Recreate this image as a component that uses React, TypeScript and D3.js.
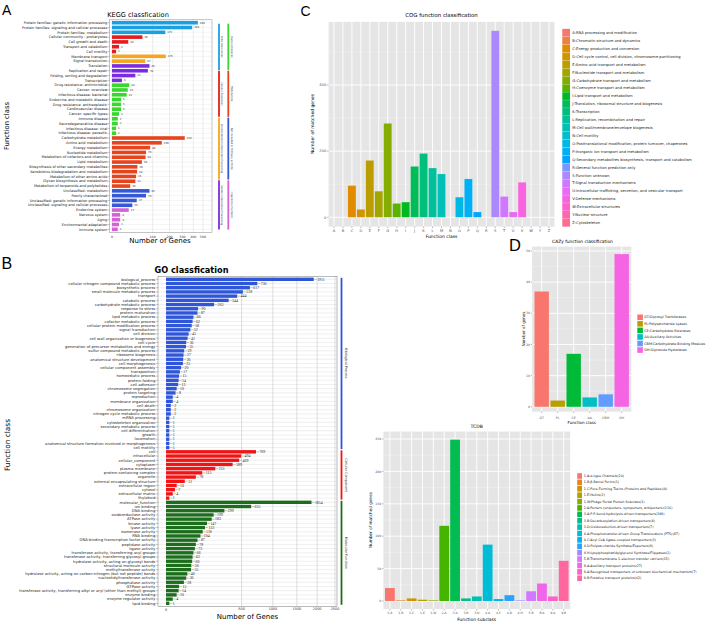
import React from 'react';
import * as d3 from 'd3';

// ---------------- KEGG ----------------
const keggLabels = [
  'Protein families: genetic information processing',
  'Protein families: signaling and cellular processes',
  'Protein families: metabolism',
  'Cellular community - prokaryotes',
  'Cell growth and death',
  'Transport and catabolism',
  'Cell motility',
  'Membrane transport',
  'Signal transduction',
  'Translation',
  'Replication and repair',
  'Folding, sorting and degradation',
  'Transcription',
  'Drug resistance: antimicrobial',
  'Cancer: overview',
  'Infectious disease: bacterial',
  'Endocrine and metabolic disease',
  'Drug resistance: antineoplastic',
  'Cardiovascular disease',
  'Cancer: specific types',
  'Immune disease',
  'Neurodegenerative disease',
  'Infectious disease: viral',
  'Infectious disease: parasitic',
  'Carbohydrate metabolism',
  'Amino acid metabolism',
  'Energy metabolism',
  'Nucleotide metabolism',
  'Metabolism of cofactors and vitamins',
  'Lipid metabolism',
  'Biosynthesis of other secondary metabolites',
  'Xenobiotics biodegradation and metabolism',
  'Metabolism of other amino acids',
  'Glycan biosynthesis and metabolism',
  'Metabolism of terpenoids and polyketides',
  'Unclassified: metabolism',
  'Poorly characterized',
  'Unclassified: genetic information processing',
  'Unclassified: signaling and cellular processes',
  'Endocrine system',
  'Nervous system',
  'Aging',
  'Environmental adaptation',
  'Immune system',
];
const keggValues = [446, 389, 172, 56, 16, 3, 1, 175, 67, 85, 78, 33, 6, 18, 15, 13, 5, 5, 5, 3, 2, 2, 1, 1,
  320, 150, 88, 70, 68, 54, 39, 38, 35, 33, 20, 85, 70, 37, 25, 17, 4, 4, 3, 2];
// group index per row
const keggGroup = [0, 0, 0, 1, 1, 1, 1, 2, 2, 3, 3, 3, 3, 4, 4, 4, 4, 4, 4, 4, 4, 4, 4, 4,
  5, 5, 5, 5, 5, 5, 5, 5, 5, 5, 5, 6, 6, 6, 6, 7, 7, 7, 7, 7];
const keggGroupNames = ['Brite Hierarchies', 'Cellular Processes', 'Environmental Information Processing',
  'Genetic Information Processing', 'Human Diseases', 'Metabolism', 'Not included in Pathway or Brite', 'Organismal Systems'];
const keggGroupColors = ['#1c9fe2', '#e51c1f', '#f6a51e', '#7a2de0', '#35d82b', '#e5441c', '#3558d6', '#d462d4'];
const keggTicks = [0, 100, 200, 300, 400, 500];
const keggStripWeights = [3, 3, 4, 3.2];

// ---------------- GO ----------------
const goBioLabels = [
  'biological_process', 'cellular nitrogen compound metabolic process', 'biosynthetic process',
  'small molecule metabolic process', 'transport', 'catabolic process', 'carbohydrate metabolic process',
  'response to stress', 'protein maturation', 'lipid metabolic process', 'cofactor metabolic process',
  'cellular protein modification process', 'signal transduction', 'cell division',
  'cell wall organization or biogenesis', 'cell cycle', 'generation of precursor metabolites and energy',
  'sulfur compound metabolic process', 'ribosome biogenesis', 'anatomical structure development',
  'cell morphogenesis', 'cellular component assembly', 'transposition', 'homeostatic process',
  'protein folding', 'cell adhesion', 'chromosome segregation', 'protein targeting', 'reproduction',
  'membrane organization', 'cell death', 'chromosome organization', 'nitrogen cycle metabolic process',
  'mRNA processing', 'cytoskeleton organization', 'secondary metabolic process', 'cell differentiation',
  'growth', 'locomotion', 'anatomical structure formation involved in morphogenesis', 'cell motility',
];
const goBioValues = [1911, 730, 617, 518, 444, 344, 203, 90, 87, 66, 62, 58, 52, 45, 41, 36, 35, 29, 27, 26,
  25, 20, 17, 15, 14, 13, 10, 8, 4, 4, 2, 2, 2, 1, 1, 1, 1, 1, 1, 1, 1];
const goCellLabels = ['cell', 'intracellular', 'cellular_component', 'cytoplasm', 'plasma membrane',
  'protein-containing complex', 'organelle', 'external encapsulating structure', 'extracellular region',
  'cytosol', 'extracellular matrix', 'thylakoid'];
const goCellValues = [709, 494, 469, 389, 213, 115, 78, 31, 10, 7, 4, 1];
const goMolLabels = ['molecular_function', 'ion binding', 'DNA binding', 'oxidoreductase activity',
  'ATPase activity', 'kinase activity', 'lyase activity', 'isomerase activity', 'RNA binding',
  'DNA-binding transcription factor activity', 'peptidase activity', 'ligase activity',
  'transferase activity, transferring acyl groups', 'transferase activity, transferring glycosyl groups',
  'hydrolase activity, acting on glycosyl bonds', 'structural molecule activity', 'methyltransferase activity',
  'hydrolase activity, acting on carbon-nitrogen (but not peptide) bonds', 'nucleotidyltransferase activity',
  'phosphatase activity', 'GTPase activity',
  'transferase activity, transferring alkyl or aryl (other than methyl) groups', 'enzyme binding',
  'enzyme regulator activity', 'lipid binding'];
const goMolValues = [1854, 635, 299, 199, 183, 147, 133, 118, 104, 87, 78, 73, 66, 62, 60, 56, 55, 40, 36, 28,
  15, 14, 10, 4, 1];
const goGroupNames = ['Biological Process', 'Cellular Component', 'Molecular Function'];
const goGroupColors = ['#2f56d9', '#f01414', '#1c6e1c'];
const goTicks = [500, 1000, 1500, 2000, 2500];

// ---------------- COG ----------------
const cogClasses = ['A', 'B', 'C', 'D', 'E', 'F', 'G', 'H', 'I', 'J', 'K', 'L', 'M', 'N', 'O', 'P', 'Q', 'R', 'S',
  'T', 'U', 'V', 'W', 'Y', 'Z'];
const cogValues = [0, 0, 96, 24, 172, 79, 284, 42, 46, 154, 193, 149, 131, 0, 61, 116, 16, 0, 564, 63, 16, 106, 0, 0, 0];
const cogNames = [
  'A:RNA processing and modification', 'B:Chromatin structure and dynamics', 'C:Energy production and conversion',
  'D:Cell cycle control, cell division, chromosome partitioning', 'E:Amino acid transport and metabolism',
  'F:Nucleotide transport and metabolism', 'G:Carbohydrate transport and metabolism',
  'H:Coenzyme transport and metabolism', 'I:Lipid transport and metabolism',
  'J:Translation, ribosomal structure and biogenesis', 'K:Transcription', 'L:Replication, recombination and repair',
  'M:Cell wall/membrane/envelope biogenesis', 'N:Cell motility',
  'O:Posttranslational modification, protein turnover, chaperones', 'P:Inorganic ion transport and metabolism',
  'Q:Secondary metabolites biosynthesis, transport and catabolism', 'R:General function prediction only',
  'S:Function unknown', 'T:Signal transduction mechanisms',
  'U:Intracellular trafficking, secretion, and vesicular transport', 'V:Defense mechanisms',
  'W:Extracellular structures', 'Y:Nuclear structure', 'Z:Cytoskeleton'];
const cogTicks = [0, 200, 400];

// ---------------- CAZy ----------------
const cazyClasses = ['GT', 'PL', 'CE', 'AA', 'CBM', 'GH'];
const cazyValues = [37, 2, 17, 3, 4, 49];
const cazyNames = ['GT:Glycosyl Transferases', 'PL:Polysaccharide Lyases', 'CE:Carbohydrate Esterases',
  'AA:Auxiliary Activities', 'CBM:Carbohydrate-Binding Modules', 'GH:Glycoside Hydrolases'];
const cazyTicks = [0, 10, 20, 30, 40, 50];

// ---------------- TCDB ----------------
const tcdbClasses = ['1.A', '1.B', '1.C', '1.E', '1.W', '2.A', '3.A', '3.B', '3.D', '4.A', '4.C', '4.D', '4.H', '5.B',
  '8.A', '9.A', '9.B'];
const tcdbValues = [20, 1, 4, 2, 1, 116, 249, 4, 7, 87, 3, 9, 1, 15, 27, 7, 62];
const tcdbNames = ['1.A:α-type Channels(20)', '1.B:β-Barrel Porins(1)',
  '1.C:Pore-Forming Toxins (Proteins and Peptides)(4)', '1.E:Holins(2)', '1.W:Phage Portal Protein Subclass(1)',
  '2.A:Porters (uniporters, symporters, antiporters)(116)', '3.A:P-P-bond-hydrolysis-driven transporters(249)',
  '3.B:Decarboxylation-driven transporters(4)', '3.D:Oxidoreduction-driven transporters(7)',
  '4.A:Phosphotransfer-driven Group Translocators (PTS)(87)', '4.C:Acyl CoA ligase-coupled transporters(3)',
  '4.D:Polysaccharide Synthase/Exporters(9)', '4.H:Lysylphosphatidylglycerol Synthase/Flippases(1)',
  '5.B:Transmembrane 1-electron transfer carriers(15)', '8.A:Auxiliary transport proteins(27)',
  '9.A:Recognized transporters of unknown biochemical mechanism(7)', '9.B:Putative transport proteins(62)'];
const tcdbTicks = [0, 50, 100, 150, 200, 250];

const SANS = 'DejaVu Sans, sans-serif';
const ARIAL = 'Liberation Sans, Arial, sans-serif';

// ggplot hue palette (polar LUV -> sRGB)
function hclLuv(h: number, c: number, l: number) {
  const Xn = 95.047, Yn = 100, Zn = 108.883;
  const hr = (h * Math.PI) / 180;
  const U = c * Math.cos(hr), V = c * Math.sin(hr);
  const Y = Yn * (l > 8 ? Math.pow((l + 16) / 116, 3) : l / 903.3);
  const den = Xn + 15 * Yn + 3 * Zn;
  const un = (4 * Xn) / den, vn = (9 * Yn) / den;
  const up = U / (13 * l) + un, vp = V / (13 * l) + vn;
  const X = (9 * Y * up) / (4 * vp);
  const Z = (Y * (12 - 3 * up - 20 * vp)) / (4 * vp);
  const x = X / 100, y = Y / 100, z = Z / 100;
  const lin = [
    3.240479 * x - 1.53715 * y - 0.498535 * z,
    -0.969256 * x + 1.875992 * y + 0.041556 * z,
    0.055648 * x - 0.204043 * y + 1.057311 * z,
  ];
  const g = lin.map((v) => {
    const s = v <= 0.0031308 ? 12.92 * v : 1.055 * Math.pow(v, 1 / 2.4) - 0.055;
    return Math.round(Math.max(0, Math.min(1, s)) * 255);
  });
  return d3.rgb(g[0], g[1], g[2]).formatHex();
}
const huePal = (n: number) => d3.range(n).map((i) => hclLuv(15 + (360 * i) / n, 100, 65));

function Kegg() {
  const n = keggLabels.length;
  const y = d3.scaleLinear().domain([0, n - 1]).range([22.7, 229.3]);
  const x = d3.scaleSqrt().domain([0, 605]).range([112, 212]);
  const box = { l: 109.5, r: 212, t: 19.8, b: 232.5 };
  const bh = 3.6;
  const cum = [0, ...d3.cumsum(keggStripWeights)];
  const sy = d3.scaleLinear().domain([0, cum[cum.length - 1]]).range([23.3, 230]);
  const strip1 = [0, 1, 2, 3];
  const strip2 = [4, 5, 6, 7];
  return (
    <g>
      <text x={2} y={15} fontFamily={ARIAL} fontSize={14}>A</text>
      <text x={138} y={16.5} textAnchor="middle" fontFamily={SANS} fontSize={6.6}>KEGG classfication</text>
      {keggTicks.map((t) => (
        <line key={t} x1={x(t)} x2={x(t)} y1={box.t} y2={box.b} stroke="#d9d9d9" strokeWidth={0.5} />
      ))}
      {keggLabels.map((l, i) => (
        <line key={'h' + i} x1={box.l} x2={box.r} y1={y(i)} y2={y(i)} stroke="#e6e6e6" strokeWidth={0.4} />
      ))}
      <rect x={box.l} y={box.t} width={box.r - box.l} height={box.b - box.t} fill="none" stroke="#888" strokeWidth={0.5} />
      {keggLabels.map((l, i) => (
        <g key={i}>
          <rect x={x(0)} y={y(i) - bh / 2} width={x(keggValues[i]) - x(0)} height={bh} fill={keggGroupColors[keggGroup[i]]} />
          <text x={107.3} y={y(i) + 1.2} textAnchor="end" fontFamily={SANS} fontSize={3.5} fill="#222">{l}</text>
          <line x1={107.6} x2={box.l} y1={y(i)} y2={y(i)} stroke="#444" strokeWidth={0.3} />
          <text x={x(keggValues[i]) + 2} y={y(i) + 0.9} fontFamily={SANS} fontSize={2.6} fill="#333">{keggValues[i]}</text>
        </g>
      ))}
      {keggTicks.map((t) => (
        <text key={'t' + t} x={x(t)} y={237.5} textAnchor="middle" fontFamily={SANS} fontSize={3.2} fill="#333">{t}</text>
      ))}
      <text x={160} y={243} textAnchor="middle" fontFamily={SANS} fontSize={7}>Number of Genes</text>
      <text transform={`translate(8.5,126) rotate(-90)`} textAnchor="middle" fontFamily={SANS} fontSize={6.8}>Function class</text>
      {strip1.map((g, k) => (
        <g key={'s1' + k}>
          <line x1={219} x2={219} y1={sy(cum[k]) + 0.4} y2={sy(cum[k + 1]) - 0.4} stroke={keggGroupColors[g]} strokeWidth={1.8} />
          <text transform={`translate(221.2,${(sy(cum[k]) + sy(cum[k + 1])) / 2}) rotate(90)`} textAnchor="middle"
            fontFamily={SANS} fontSize={2.6} fill="#333">{keggGroupNames[g]}</text>
        </g>
      ))}
      {strip2.map((g, k) => (
        <g key={'s2' + k}>
          <line x1={228.3} x2={228.3} y1={sy(cum[k]) + 0.4} y2={sy(cum[k + 1]) - 0.4} stroke={keggGroupColors[g]} strokeWidth={1.8} />
          <text transform={`translate(231,${(sy(cum[k]) + sy(cum[k + 1])) / 2}) rotate(90)`} textAnchor="middle"
            fontFamily={SANS} fontSize={2.6} fill="#333">{keggGroupNames[g]}</text>
        </g>
      ))}
    </g>
  );
}

function Go() {
  const labels = [...goBioLabels, ...goCellLabels, ...goMolLabels];
  const values = [...goBioValues, ...goCellValues, ...goMolValues];
  const groups = [
    ...goBioLabels.map(() => 0), ...goCellLabels.map(() => 1), ...goMolLabels.map(() => 2),
  ];
  const n = labels.length;
  const y = d3.scaleLinear().domain([0, n - 1]).range([279.3, 603.3]);
  const x = d3.scaleSqrt().domain([0, 2560]).range([166, 337]);
  const box = { l: 158, r: 337, t: 276.3, b: 606.5 };
  const bh = 3.4;
  const step = y(1) - y(0);
  const groupSpans = [0, 1, 2].map((g) => {
    const idx = groups.map((v, i) => (v === g ? i : -1)).filter((i) => i >= 0);
    return [y(idx[0]) - step / 2, y(idx[idx.length - 1]) + step / 2];
  });
  return (
    <g>
      <text x={1.5} y={268.5} fontFamily={ARIAL} fontSize={16}>B</text>
      <text x={191.5} y={273.3} textAnchor="middle" fontFamily={SANS} fontWeight="bold" fontSize={8.2}>GO classfication</text>
      {labels.map((l, i) => (
        <line key={'h' + i} x1={box.l} x2={box.r} y1={y(i)} y2={y(i)} stroke="#dedede" strokeWidth={0.5} />
      ))}
      {goTicks.map((t) => (
        <line key={t} x1={x(t)} x2={x(t)} y1={box.t} y2={box.b} stroke="#c8c8c8" strokeWidth={0.6} />
      ))}
      <rect x={box.l} y={box.t} width={box.r - box.l} height={box.b - box.t} fill="none" stroke="#777" strokeWidth={0.5} />
      {labels.map((l, i) => (
        <g key={i}>
          <rect x={x(0)} y={y(i) - bh / 2} width={x(values[i]) - x(0)} height={bh} fill={goGroupColors[groups[i]]} />
          <text x={155.3} y={y(i) + 1.3} textAnchor="end" fontFamily={SANS} fontSize={3.75} fill="#222">{l}</text>
          <line x1={155.8} x2={box.l} y1={y(i)} y2={y(i)} stroke="#444" strokeWidth={0.3} />
          <line x1={x(values[i]) + 0.4} x2={x(values[i]) + 3} y1={y(i)} y2={y(i)} stroke="#555" strokeWidth={0.3} />
          <text x={x(values[i]) + 3.4} y={y(i) + 1.3} fontFamily="Liberation Serif, serif" fontSize={3.9} fill="#222">{values[i]}</text>
        </g>
      ))}
      <text x={x(0)} y={611} textAnchor="middle" fontFamily={SANS} fontSize={3.4} fill="#333">0</text>
      {goTicks.map((t) => (
        <text key={'t' + t} x={x(t)} y={610} textAnchor="middle" fontFamily={SANS} fontSize={3.4} fill="#333">{t}</text>
      ))}
      <text x={247.5} y={619} textAnchor="middle" fontFamily={SANS} fontSize={7}>Number of Genes</text>
      <text transform={`translate(9.5,445) rotate(-90)`} textAnchor="middle" fontFamily={SANS} fontSize={7.4}>Function class</text>
      {groupSpans.map((s, g) => (
        <g key={'gs' + g}>
          <line x1={341.5} x2={341.5} y1={s[0] + 0.6} y2={s[1] - 0.6} stroke={goGroupColors[g]} strokeWidth={1.8} />
          <text transform={`translate(345.3,${(s[0] + s[1]) / 2}) rotate(90)`} textAnchor="middle"
            fontFamily={SANS} fontSize={3.4} fill="#333">{goGroupNames[g]}</text>
        </g>
      ))}
    </g>
  );
}

function Cog() {
  const colors = huePal(cogClasses.length);
  const x = d3.scalePoint<string>().domain(cogClasses).range([334, 549]);
  const step = x.step();
  const y = d3.scaleLinear().domain([0, 400]).range([217.3, 85]);
  const panel = { l: 328.6, r: 554.4, t: y(591), b: y(-28) };
  const minor = [100, 300, 500];
  return (
    <g>
      <text x={300.5} y={15.5} fontFamily={ARIAL} fontSize={14}>C</text>
      <rect x={panel.l} y={panel.t} width={panel.r - panel.l} height={panel.b - panel.t} fill="#e5e5e5" />
      {minor.map((t) => (
        <line key={'m' + t} x1={panel.l} x2={panel.r} y1={y(t)} y2={y(t)} stroke="#f2f2f2" strokeWidth={0.5} />
      ))}
      {cogTicks.map((t) => (
        <line key={t} x1={panel.l} x2={panel.r} y1={y(t)} y2={y(t)} stroke="#fff" strokeWidth={0.9} />
      ))}
      {cogClasses.map((c) => (
        <line key={c} x1={x(c)} x2={x(c)} y1={panel.t} y2={panel.b} stroke="#fff" strokeWidth={0.9} />
      ))}
      {cogClasses.map((c, i) => cogValues[i] > 0 && (
        <rect key={'b' + c} x={(x(c) as number) - step * 0.45} y={y(cogValues[i])} width={step * 0.9}
          height={y(0) - y(cogValues[i])} fill={colors[i]} stroke="#ffffff" strokeOpacity={0.5} strokeWidth={0.3} />
      ))}
      {cogTicks.map((t) => (
        <g key={'yt' + t}>
          <line x1={panel.l - 1.5} x2={panel.l} y1={y(t)} y2={y(t)} stroke="#444" strokeWidth={0.4} />
          <text x={panel.l - 2.2} y={y(t) + 1.3} textAnchor="end" fontFamily={SANS} fontSize={3.7} fill="#555">{t}</text>
        </g>
      ))}
      {cogClasses.map((c) => (
        <g key={'xt' + c}>
          <line x1={x(c)} x2={x(c)} y1={panel.b} y2={panel.b + 1.5} stroke="#444" strokeWidth={0.4} />
          <text x={x(c)} y={231.8} textAnchor="middle" fontFamily={SANS} fontSize={3.7} fill="#555">{c}</text>
        </g>
      ))}
      <text x={441.5} y={17} textAnchor="middle" fontFamily={SANS} fontSize={5.4}>COG function classification</text>
      <text x={441.5} y={238.4} textAnchor="middle" fontFamily={SANS} fontSize={4.5}>Function class</text>
      <text transform={`translate(314,124) rotate(-90)`} textAnchor="middle" fontFamily={SANS} fontSize={4.5}>Number of matched genes</text>
      {cogNames.map((nme, i) => {
        const cy = 32.7 + i * 7.92;
        return (
          <g key={'lg' + i}>
            <rect x={562.3} y={cy - 3.85} width={7.7} height={7.7} fill={colors[i]} />
            <text x={572.3} y={cy + 1.3} fontFamily={SANS} fontSize={3.7} fill="#222">{nme}</text>
          </g>
        );
      })}
    </g>
  );
}

function Cazy() {
  const colors = huePal(cazyClasses.length);
  const x = d3.scalePoint<string>().domain(cazyClasses).range([541.7, 621.7]);
  const step = x.step();
  const y = d3.scaleLinear().domain([0, 50]).range([406.8, 251]);
  const panel = { l: 532.1, r: 631.3, t: 246.6, b: 411.7 };
  return (
    <g>
      <text x={509} y={250.7} fontFamily={ARIAL} fontSize={16.5}>D</text>
      <rect x={panel.l} y={panel.t} width={panel.r - panel.l} height={panel.b - panel.t} fill="#e5e5e5" />
      {[5, 15, 25, 35, 45].map((t) => (
        <line key={'m' + t} x1={panel.l} x2={panel.r} y1={y(t)} y2={y(t)} stroke="#f2f2f2" strokeWidth={0.5} />
      ))}
      {cazyTicks.map((t) => (
        <line key={t} x1={panel.l} x2={panel.r} y1={y(t)} y2={y(t)} stroke="#fff" strokeWidth={0.9} />
      ))}
      {cazyClasses.map((c) => (
        <line key={c} x1={x(c)} x2={x(c)} y1={panel.t} y2={panel.b} stroke="#fff" strokeWidth={0.9} />
      ))}
      {cazyClasses.map((c, i) => (
        <rect key={'b' + c} x={(x(c) as number) - step * 0.45} y={y(cazyValues[i])} width={step * 0.9}
          height={y(0) - y(cazyValues[i])} fill={colors[i]} />
      ))}
      {cazyTicks.map((t) => (
        <g key={'yt' + t}>
          <line x1={panel.l - 1.3} x2={panel.l} y1={y(t)} y2={y(t)} stroke="#444" strokeWidth={0.4} />
          <text x={panel.l - 2} y={y(t) + 1.1} textAnchor="end" fontFamily={SANS} fontSize={3.2} fill="#555">{t}</text>
        </g>
      ))}
      {cazyClasses.map((c) => (
        <g key={'xt' + c}>
          <line x1={x(c)} x2={x(c)} y1={panel.b} y2={panel.b + 1.3} stroke="#444" strokeWidth={0.4} />
          <text x={x(c)} y={418.6} textAnchor="middle" fontFamily={SANS} fontSize={3.2} fill="#555">{c}</text>
        </g>
      ))}
      <text x={582.5} y={243.3} textAnchor="middle" fontFamily={SANS} fontSize={4.4}>CAZy function classification</text>
      <text x={581.7} y={423.8} textAnchor="middle" fontFamily={SANS} fontSize={4}>Function class</text>
      <text transform={`translate(524.5,329) rotate(-90)`} textAnchor="middle" fontFamily={SANS} fontSize={4}>Number of genes</text>
      {cazyNames.map((nme, i) => {
        const cy = 317.3 + i * 6.55;
        return (
          <g key={'lg' + i}>
            <rect x={637.3} y={cy - 2.8} width={5.6} height={5.6} fill={colors[i]} />
            <text x={644.2} y={cy + 1.1} fontFamily={SANS} fontSize={3.4} fill="#222">{nme}</text>
          </g>
        );
      })}
    </g>
  );
}

function Tcdb() {
  const colors = huePal(tcdbClasses.length);
  const x = d3.scalePoint<string>().domain(tcdbClasses).range([389.9, 563.7]);
  const step = x.step();
  const y = d3.scaleLinear().domain([0, 250]).range([601, 439]);
  const panel = { l: 383.4, r: 570.2, t: y(261.5), b: y(-12.45) };
  const minor = [25, 75, 125, 175, 225];
  return (
    <g>
      <text x={403} y={445} fontFamily={ARIAL} fontSize={16}>E</text>
      <rect x={panel.l} y={panel.t} width={panel.r - panel.l} height={panel.b - panel.t} fill="#e5e5e5" />
      {minor.map((t) => (
        <line key={'m' + t} x1={panel.l} x2={panel.r} y1={y(t)} y2={y(t)} stroke="#f2f2f2" strokeWidth={0.5} />
      ))}
      {tcdbTicks.map((t) => (
        <line key={t} x1={panel.l} x2={panel.r} y1={y(t)} y2={y(t)} stroke="#fff" strokeWidth={0.9} />
      ))}
      {tcdbClasses.map((c) => (
        <line key={c} x1={x(c)} x2={x(c)} y1={panel.t} y2={panel.b} stroke="#fff" strokeWidth={0.9} />
      ))}
      {tcdbClasses.map((c, i) => (
        <rect key={'b' + c} x={(x(c) as number) - step * 0.45} y={y(tcdbValues[i])} width={step * 0.9}
          height={y(0) - y(tcdbValues[i])} fill={colors[i]} />
      ))}
      {tcdbTicks.map((t) => (
        <g key={'yt' + t}>
          <line x1={panel.l - 1.3} x2={panel.l} y1={y(t)} y2={y(t)} stroke="#444" strokeWidth={0.4} />
          <text x={panel.l - 2} y={y(t) + 1.1} textAnchor="end" fontFamily={SANS} fontSize={3.2} fill="#555">{t}</text>
        </g>
      ))}
      {tcdbClasses.map((c) => (
        <g key={'xt' + c}>
          <line x1={x(c)} x2={x(c)} y1={panel.b} y2={panel.b + 1.3} stroke="#444" strokeWidth={0.4} />
          <text x={x(c)} y={613.8} textAnchor="middle" fontFamily={SANS} fontSize={3.1} fill="#555">{c}</text>
        </g>
      ))}
      <text x={476.7} y={428.3} textAnchor="middle" fontFamily={SANS} fontSize={4.6}>TCDB</text>
      <text x={476.7} y={620.5} textAnchor="middle" fontFamily={SANS} fontSize={4.4}>Function subclass</text>
      <text transform={`translate(372,520) rotate(-90)`} textAnchor="middle" fontFamily={SANS} fontSize={4.2}>Number of matched genes</text>
      {tcdbNames.map((nme, i) => {
        const cy = 476 + i * 6.39;
        return (
          <g key={'lg' + i}>
            <rect x={577.2} y={cy - 2.8} width={4.8} height={5.6} fill={colors[i]} />
            <text x={583.8} y={cy + 1.1} fontFamily={SANS} fontSize={3.3} fill="#222">{nme}</text>
          </g>
        );
      })}
    </g>
  );
}

export default function App() {
  return (
    <svg width={708} height={623} viewBox="0 0 708 623"
      style={{ position: 'absolute', left: 0, top: 0, background: '#fff' }}>
      <rect width={708} height={623} fill="#fff" />
      <Kegg />
      <Go />
      <Cog />
      <Cazy />
      <Tcdb />
    </svg>
  );
}
